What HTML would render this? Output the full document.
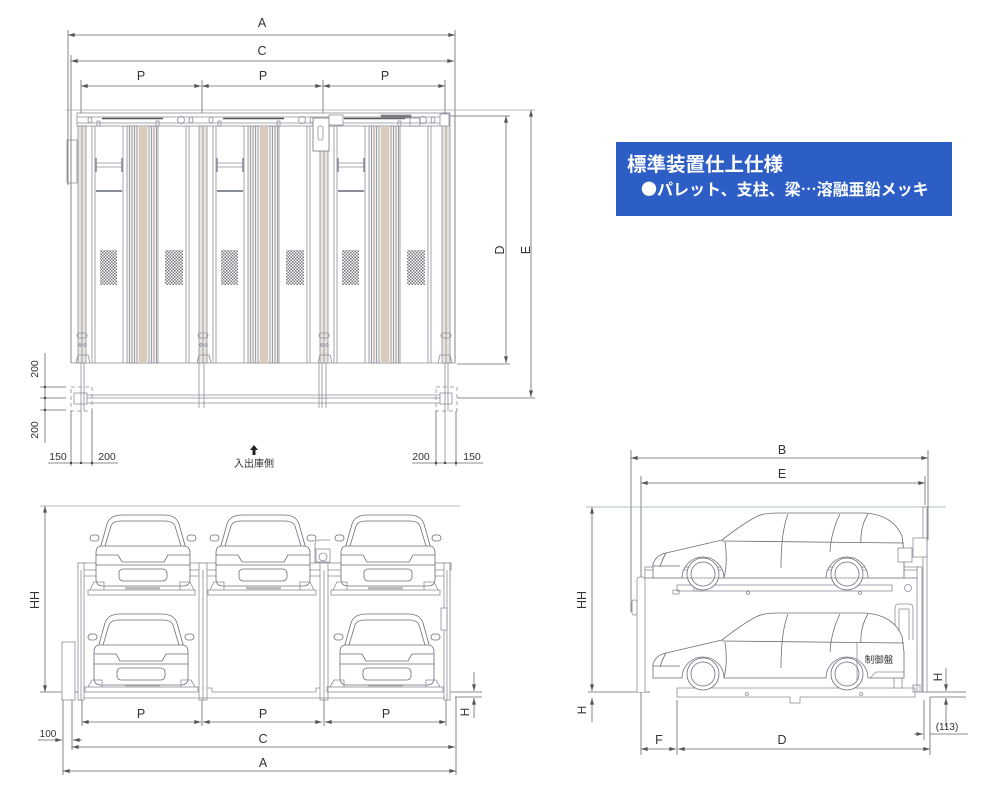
<!DOCTYPE html>
<html><head><meta charset="utf-8"><style>
html,body{margin:0;padding:0;background:#fff;}
svg{display:block;}
text{font-family:"Liberation Sans","Noto Sans CJK JP",sans-serif;fill:#333;}
</style></head><body>
<svg width="1000" height="800" viewBox="0 0 1000 800" xmlns="http://www.w3.org/2000/svg">
<defs>
<marker id="ar" viewBox="0 0 10 6" refX="10" refY="3" markerWidth="7" markerHeight="4" orient="auto-start-reverse" markerUnits="userSpaceOnUse"><path d="M0,0 L10,3 L0,6 z" fill="#555"/></marker>
<pattern id="chk" width="3" height="3" patternUnits="userSpaceOnUse"><rect width="3" height="3" fill="#fff"/><rect width="1.5" height="1.5" fill="#7a7a80"/><rect x="1.5" y="1.5" width="1.5" height="1.5" fill="#7a7a80"/></pattern>

<g id="bay" stroke="#8a8e99" stroke-width="0.8" fill="none">
 <rect x="78" y="126" width="8" height="237" fill="#ebe4dc"/>
 <line x1="82" y1="126" x2="82" y2="363"/>
 <line x1="92" y1="126" x2="92" y2="363"/>
 <line x1="95" y1="126" x2="95" y2="363"/>
 <line x1="123" y1="126" x2="123" y2="363"/>
 <rect x="127" y="126" width="31" height="237" fill="#f3efea"/>
 <rect x="139" y="126" width="8" height="237" fill="#d8cbbd" stroke="none"/>
 <path d="M129.5,126V363M132,126V363M134.5,126V363M137,126V363M149,126V363M151.5,126V363M154,126V363M156.5,126V363"/>
 <line x1="186" y1="126" x2="186" y2="363"/>
 <line x1="189" y1="126" x2="189" y2="363"/>
 <rect x="100" y="250" width="17" height="35" fill="url(#chk)" stroke="none"/>
 <rect x="165" y="250" width="18" height="35" fill="url(#chk)" stroke="none"/>
 <path d="M96,163H122M96,167H122"/>
 <path d="M96,158V172M122,158V172" stroke-width="1.6"/>
 <line x1="96" y1="191" x2="122" y2="191" stroke-width="2"/>
 <rect x="77" y="333" width="10" height="5" rx="2.5"/>
 <path d="M76,363 L78,355 L88,355 L90,363"/>
 <circle cx="80" cy="345" r="1.3"/><circle cx="85" cy="345" r="1.3"/>
 <line x1="102" y1="118.5" x2="163" y2="118.5" stroke="#555" stroke-width="1.5"/>
 <circle cx="181" cy="120" r="3.5"/>
 <ellipse cx="191" cy="120" rx="2" ry="3"/>
 <ellipse cx="90" cy="120" rx="2" ry="3"/>
 <rect x="97" y="121" width="3" height="5"/><rect x="156" y="121" width="3" height="5"/>
</g>

<g id="fcar" fill="#fff" stroke="#6a6e78" stroke-width="0.8">
 <rect x="-6" y="20" width="9" height="6" rx="3"/>
 <rect x="91" y="20" width="9" height="6" rx="3"/>
 <path d="M4,34 L11,9 Q14,0 26,0 L68,0 Q80,0 83,9 L90,34 Z"/>
 <path d="M9,31 L15,11 Q17,6 25,6 L69,6 Q77,6 79,11 L85,31 Q85,33 83,33 L11,33 Q9,33 9,31 Z"/>
 <path d="M0,38 Q0,31 6,31 L88,31 Q94,31 94,38 L94,64 Q94,71 87,71 L7,71 Q0,71 0,64 Z"/>
 <path d="M0,40 L22,40 L26,47 L68,47 L72,40 L94,40" fill="none"/>
 <path d="M0,50 L94,50" fill="none"/>
 <rect x="23" y="54" width="48" height="12" rx="4"/>
</g>

<g id="scar" fill="#fff" stroke="#6a6e78" stroke-width="0.8">
 <path d="M3,64 L3,52 Q6,43 16,41 L72,28 Q95,10 108,4 Q114,1 128,1 L215,1 Q243,3 252,24 L254,40 L254,66 L218,66 A21,21 0 0 0 176,66 L74,66 A21,21 0 0 0 32,66 L3,66 Z"/>
 <circle cx="53" cy="62" r="16"/>
 <circle cx="197" cy="62" r="16"/>
 <circle cx="53" cy="62" r="12" fill="none"/>
 <circle cx="197" cy="62" r="12" fill="none"/>
 <path d="M72,29 L254,31 M75,30 Q78,50 74,66 M138,2 Q131,20 131,56 M190,2 Q181,20 180,40 M218,2 Q210,15 211,31 M16,41 Q12,48 10,55 M3,54 L30,54" fill="none"/>
</g>
</defs>

<!-- ================= TOP PLAN VIEW ================= -->
<g stroke="#666" stroke-width="0.8" fill="none">
 <line x1="68" y1="30" x2="68" y2="185"/>
 <line x1="455" y1="30" x2="455" y2="363"/>
 <line x1="71" y1="55" x2="71" y2="363"/>
 <line x1="81" y1="80" x2="81" y2="113"/>
 <line x1="202" y1="80" x2="202" y2="113"/>
 <line x1="323" y1="80" x2="323" y2="113"/>
 <line x1="445" y1="80" x2="445" y2="113"/>
 <line x1="68" y1="35" x2="455" y2="35" marker-start="url(#ar)" marker-end="url(#ar)"/>
 <line x1="71" y1="61" x2="454" y2="61" marker-start="url(#ar)" marker-end="url(#ar)"/>
 <line x1="81" y1="86" x2="201" y2="86" marker-start="url(#ar)" marker-end="url(#ar)"/>
 <line x1="202" y1="86" x2="322" y2="86" marker-start="url(#ar)" marker-end="url(#ar)"/>
 <line x1="323" y1="86" x2="445" y2="86" marker-start="url(#ar)" marker-end="url(#ar)"/>
 <line x1="66" y1="110" x2="535" y2="110" stroke="#9aa"/>
 <line x1="449" y1="116" x2="510" y2="116"/>
 <line x1="506" y1="116" x2="506" y2="363" marker-start="url(#ar)" marker-end="url(#ar)"/>
 <line x1="531" y1="110" x2="531" y2="397" marker-start="url(#ar)" marker-end="url(#ar)"/>
 <line x1="457" y1="364" x2="510" y2="364"/>
 <line x1="457" y1="398" x2="535" y2="398"/>
</g>
<text x="262" y="27" font-size="12.5" text-anchor="middle">A</text>
<text x="262" y="55" font-size="12.5" text-anchor="middle">C</text>
<text x="141" y="80" font-size="12.5" text-anchor="middle">P</text>
<text x="263" y="80" font-size="12.5" text-anchor="middle">P</text>
<text x="385" y="80" font-size="12.5" text-anchor="middle">P</text>
<text transform="translate(504,250) rotate(-90)" font-size="12.5" text-anchor="middle">D</text>
<text transform="translate(530,250) rotate(-90)" font-size="12.5" text-anchor="middle">E</text>

<!-- frame -->
<g stroke="#8a8e99" stroke-width="0.8" fill="none">
 <rect x="77" y="113" width="372" height="13" fill="#fff"/>
 <line x1="77" y1="117" x2="449" y2="117"/>
 <line x1="77" y1="123" x2="449" y2="123"/>
 <rect x="67" y="140" width="10" height="43"/>
 <line x1="71" y1="363" x2="455" y2="363"/>
</g>
<use href="#bay"/>
<use href="#bay" x="121"/>
<use href="#bay" x="242"/>
<g stroke="#8a8e99" stroke-width="0.8" fill="none">
 <rect x="442" y="113" width="8" height="250" fill="#ebe4dc"/>
 <line x1="446" y1="113" x2="446" y2="363"/>
 <rect x="441" y="333" width="10" height="5" rx="2.5"/>
 <path d="M438,363 L440,355 L450,355 L452,363"/>
 <rect x="313" y="118" width="16" height="33" fill="#fff" stroke="#777"/>
 <rect x="318" y="126" width="5" height="14" rx="2"/>
 <rect x="329" y="115" width="14" height="10" fill="#fff"/>
 <rect x="381" y="115" width="30" height="3" fill="#777"/>
 <rect x="410" y="118" width="10" height="8"/>
 <rect x="440" y="114" width="9" height="12" fill="#fff"/>
 <!-- below pallets -->
 <line x1="81" y1="363" x2="81" y2="463"/>
 <line x1="84" y1="363" x2="84" y2="411"/>
 <line x1="445" y1="363" x2="445" y2="463"/>
 <line x1="448" y1="363" x2="448" y2="411"/>
 <line x1="199" y1="363" x2="199" y2="408"/>
 <line x1="204" y1="363" x2="204" y2="408"/>
 <line x1="319" y1="363" x2="319" y2="408"/>
 <line x1="322" y1="363" x2="322" y2="408"/>
 <line x1="326" y1="363" x2="326" y2="408"/>
 <line x1="87" y1="395" x2="440" y2="395"/>
 <line x1="87" y1="398" x2="440" y2="398"/>
 <line x1="87" y1="403" x2="440" y2="403"/>
 <rect x="71" y="387" width="21" height="24" stroke-dasharray="4,3"/>
 <rect x="74" y="393" width="13" height="11"/>
 <rect x="436" y="387" width="21" height="24" stroke-dasharray="4,3"/>
 <rect x="440" y="393" width="12" height="11"/>
</g>
<g stroke="#666" stroke-width="0.8" fill="none">
 <line x1="45" y1="353" x2="45" y2="443"/>
 <line x1="40" y1="387" x2="66" y2="387"/>
 <line x1="40" y1="398" x2="66" y2="398"/>
 <line x1="40" y1="410" x2="66" y2="410"/>
 <line x1="71" y1="411" x2="71" y2="466"/>
 <line x1="92" y1="411" x2="92" y2="466"/>
 <line x1="436" y1="411" x2="436" y2="466"/>
 <line x1="456" y1="411" x2="456" y2="466"/>
 <line x1="48" y1="463" x2="118" y2="463"/>
 <line x1="412" y1="463" x2="483" y2="463"/>
</g>
<g fill="#444">
 <circle cx="45" cy="387" r="1.2"/><circle cx="45" cy="398" r="1.2"/><circle cx="45" cy="410" r="1.2"/>
 <circle cx="71" cy="463" r="1.2"/><circle cx="81" cy="463" r="1.2"/><circle cx="92" cy="463" r="1.2"/>
 <circle cx="436" cy="463" r="1.2"/><circle cx="445" cy="463" r="1.2"/><circle cx="456" cy="463" r="1.2"/>
</g>
<text transform="translate(38,369) rotate(-90)" font-size="10.5" text-anchor="middle">200</text>
<text transform="translate(38,430) rotate(-90)" font-size="10.5" text-anchor="middle">200</text>
<text x="58" y="460" font-size="10.5" text-anchor="middle">150</text>
<text x="107" y="460" font-size="10.5" text-anchor="middle">200</text>
<text x="421" y="460" font-size="10.5" text-anchor="middle">200</text>
<text x="472" y="460" font-size="10.5" text-anchor="middle">150</text>
<path d="M254,445 L258,450 L255.5,450 L255.5,455 L252.5,455 L252.5,450 L250,450 Z" fill="#222"/>
<text x="254" y="467" font-size="10" text-anchor="middle">入出庫側</text>

<!-- ================= BLUE BOX ================= -->
<rect x="616" y="142" width="336" height="74" fill="#2d5ec6"/>
<text x="627" y="171" font-size="19.5" font-weight="bold" style="fill:#fff;font-family:'Noto Sans CJK JP',sans-serif">標準装置仕上仕様</text>
<text x="641" y="195" font-size="16" font-weight="bold" style="fill:#fff;font-family:'Noto Sans CJK JP',sans-serif">●パレット、支柱、梁…溶融亜鉛メッキ</text>

<!-- ================= FRONT VIEW ================= -->
<g stroke="#666" stroke-width="0.8" fill="none">
 <line x1="40" y1="506" x2="460" y2="506" stroke="#9aa"/>
 <line x1="45" y1="506" x2="45" y2="692" marker-start="url(#ar)" marker-end="url(#ar)"/>
 <line x1="40" y1="692" x2="78" y2="692"/>
 <line x1="450" y1="692" x2="482" y2="692"/>
 <line x1="455" y1="697" x2="482" y2="697"/>
 <line x1="474" y1="672" x2="474" y2="691" marker-end="url(#ar)"/>
 <line x1="474" y1="718" x2="474" y2="698" marker-end="url(#ar)"/>
 <line x1="63" y1="700" x2="63" y2="775"/>
 <line x1="72" y1="693" x2="72" y2="750"/>
 <line x1="456" y1="697" x2="456" y2="775"/>
 <line x1="82" y1="700" x2="82" y2="726"/>
 <line x1="202" y1="700" x2="202" y2="726"/>
 <line x1="324" y1="700" x2="324" y2="726"/>
 <line x1="446" y1="700" x2="446" y2="726"/>
 <line x1="82" y1="722" x2="201" y2="722" marker-start="url(#ar)" marker-end="url(#ar)"/>
 <line x1="203" y1="722" x2="322" y2="722" marker-start="url(#ar)" marker-end="url(#ar)"/>
 <line x1="325" y1="722" x2="446" y2="722" marker-start="url(#ar)" marker-end="url(#ar)"/>
 <line x1="72" y1="747" x2="455" y2="747" marker-start="url(#ar)" marker-end="url(#ar)"/>
 <line x1="63" y1="771" x2="456" y2="771" marker-start="url(#ar)" marker-end="url(#ar)"/>
 <line x1="38" y1="740" x2="62" y2="740" marker-end="url(#ar)"/>
 <line x1="82" y1="740" x2="73" y2="740" marker-end="url(#ar)"/>
</g>
<text transform="translate(39,600) rotate(-90)" font-size="12.5" text-anchor="middle">HH</text>
<text transform="translate(469,712) rotate(-90)" font-size="12" text-anchor="middle">H</text>
<text x="48" y="737" font-size="10" text-anchor="middle">100</text>
<text x="141" y="718" font-size="12.5" text-anchor="middle">P</text>
<text x="263" y="718" font-size="12.5" text-anchor="middle">P</text>
<text x="386" y="718" font-size="12.5" text-anchor="middle">P</text>
<text x="263" y="743" font-size="12.5" text-anchor="middle">C</text>
<text x="263" y="767" font-size="12.5" text-anchor="middle">A</text>

<g stroke="#8a8e99" stroke-width="0.8" fill="none">
 <rect x="62" y="642" width="13" height="58" fill="#fff"/>
 <rect x="78" y="563" width="373" height="7" fill="#fff"/>
 <line x1="78" y1="576" x2="451" y2="576"/>
 <rect x="78" y="563" width="6" height="137" fill="#fff"/>
 <line x1="81" y1="570" x2="81" y2="700"/>
 <rect x="199" y="563" width="8" height="137" fill="#fff"/>
 <line x1="203" y1="570" x2="203" y2="700"/>
 <rect x="320" y="563" width="8" height="137" fill="#fff"/>
 <line x1="324" y1="570" x2="324" y2="700"/>
 <rect x="444" y="563" width="6" height="137" fill="#fff"/>
 <line x1="447" y1="570" x2="447" y2="700"/>
 <rect x="441" y="608" width="6" height="22" fill="#fff"/>
 <rect x="88" y="590" width="107" height="5"/>
 <rect x="208" y="590" width="108" height="5"/>
 <rect x="331" y="590" width="109" height="5"/>
 <rect x="125" y="587" width="35" height="3" fill="#bbb" stroke="none"/>
 <rect x="246" y="587" width="35" height="3" fill="#bbb" stroke="none"/>
 <rect x="368" y="587" width="35" height="3" fill="#bbb" stroke="none"/>
 <rect x="85" y="687" width="113" height="5"/>
 <rect x="327" y="687" width="116" height="5"/>
 <path d="M207,688 L212,688 L212,692 L316,692 L316,688 L320,688"/>
 <rect x="125" y="684" width="35" height="3" fill="#bbb" stroke="none"/>
 <rect x="368" y="684" width="35" height="3" fill="#bbb" stroke="none"/>
 <line x1="84" y1="698" x2="445" y2="698"/>
 <path d="M315,563 L315,545 Q315,540 320,540 L330,540" />
 <rect x="316" y="549" width="14" height="13" fill="#fff"/>
 <circle cx="323" cy="557" r="4"/>
</g>
<use href="#fcar" x="96" y="515"/>
<use href="#fcar" x="216" y="515"/>
<use href="#fcar" x="341" y="515"/>
<use href="#fcar" x="94" y="614"/>
<use href="#fcar" x="340" y="614"/>
<g stroke="#8a8e99" stroke-width="0.8" fill="none">
 <path d="M90,590 L94,582 L104,582 L104,590 M194,590 L190,582 L180,582 L180,590"/>
 <path d="M210,590 L214,582 L224,582 L224,590 M314,590 L310,582 L300,582 L300,590"/>
 <path d="M333,590 L337,582 L347,582 L347,590 M438,590 L434,582 L424,582 L424,590"/>
 <path d="M88,687 L92,680 L102,680 L102,687 M195,687 L191,680 L181,680 L181,687"/>
 <path d="M330,687 L334,680 L344,680 L344,687 M440,687 L436,680 L426,680 L426,687"/>
</g>

<!-- ================= SIDE VIEW ================= -->
<g stroke="#666" stroke-width="0.8" fill="none">
 <line x1="631" y1="450" x2="631" y2="612"/>
 <line x1="641" y1="476" x2="641" y2="755"/>
 <line x1="928" y1="450" x2="928" y2="540"/>
 <line x1="925" y1="476" x2="925" y2="505"/>
 <line x1="631" y1="458" x2="928" y2="458" marker-start="url(#ar)" marker-end="url(#ar)"/>
 <line x1="641" y1="483" x2="925" y2="483" marker-start="url(#ar)" marker-end="url(#ar)"/>
 <line x1="586" y1="507" x2="946" y2="507" stroke="#9aa"/>
 <line x1="592" y1="507" x2="592" y2="691" marker-start="url(#ar)" marker-end="url(#ar)"/>
 <line x1="588" y1="692" x2="650" y2="692"/>
 <line x1="922" y1="692" x2="966" y2="692"/>
 <line x1="930" y1="697" x2="966" y2="697"/>
 <line x1="592" y1="722" x2="592" y2="698" marker-end="url(#ar)"/>
 <line x1="946" y1="668" x2="946" y2="691" marker-end="url(#ar)"/>
 <line x1="946" y1="727" x2="946" y2="698" marker-end="url(#ar)"/>
 <line x1="677" y1="700" x2="677" y2="755"/>
 <line x1="930" y1="697" x2="930" y2="755"/>
 <line x1="924" y1="700" x2="924" y2="740"/>
 <line x1="641" y1="749" x2="676" y2="749" marker-start="url(#ar)" marker-end="url(#ar)"/>
 <line x1="678" y1="749" x2="930" y2="749" marker-start="url(#ar)" marker-end="url(#ar)"/>
 <line x1="930" y1="734" x2="968" y2="734"/>
 <line x1="914" y1="734" x2="923" y2="734" marker-end="url(#ar)"/>
</g>
<text x="782" y="454" font-size="12.5" text-anchor="middle">B</text>
<text x="782" y="478" font-size="12.5" text-anchor="middle">E</text>
<text transform="translate(586,600) rotate(-90)" font-size="12.5" text-anchor="middle">HH</text>
<text transform="translate(586,710) rotate(-90)" font-size="12" text-anchor="middle">H</text>
<text transform="translate(942,677) rotate(-90)" font-size="12" text-anchor="middle">H</text>
<text x="659" y="744" font-size="12.5" text-anchor="middle">F</text>
<text x="782" y="744" font-size="12.5" text-anchor="middle">D</text>
<text x="947" y="730" font-size="10" text-anchor="middle">(113)</text>

<g stroke="#8a8e99" stroke-width="0.8" fill="none">
 <path d="M637,692 L637,580 Q637,577 640,577 L642,577 Q645,577 645,580 L645,692" fill="#fff"/>
 <rect x="632" y="600" width="5" height="15" rx="2" fill="#fff"/>
 <rect x="917" y="567" width="5" height="125" fill="#fff"/>
 <rect x="923" y="507" width="4" height="185" fill="#fff"/>
 <path d="M895,640 L895,608 Q895,604 899,604 L909,604 Q913,604 913,608 L913,640"/>
 <path d="M899,640 L899,609 L909,609 L909,640"/>
 <rect x="645" y="567" width="272" height="11" fill="#fff"/>
 <line x1="645" y1="570" x2="917" y2="570"/>
 <rect x="677" y="585" width="215" height="6" fill="#fff"/>
 <rect x="673" y="590" width="6" height="4"/>
 <circle cx="748" cy="593" r="1.5"/><circle cx="860" cy="593" r="1.5"/>
 <path d="M697,590 L697,568 M700,590 L700,568" stroke="#777"/>
 <rect x="694" y="586" width="8" height="5"/>
 <circle cx="908" cy="588" r="3.5"/>
 <path d="M677,688 L915,688 L915,697 L800,697 L800,703 L790,703 L790,697 L677,697 Z" fill="#fff"/>
 <circle cx="747" cy="694" r="1.5"/><circle cx="861" cy="694" r="1.5"/>
 <rect x="894" y="673" width="8" height="15" fill="#fff"/>
</g>
<use href="#scar" x="650" y="512"/>
<use href="#scar" x="650" y="612"/>
<g stroke="#8a8e99" stroke-width="0.8" fill="none">
 <rect x="898" y="548" width="14" height="14" fill="#fff"/>
 <rect x="913" y="538" width="14" height="19" fill="#fff"/>
 <line x1="645" y1="578" x2="917" y2="578"/>
 <line x1="857" y1="643" x2="857" y2="680"/>
 <path d="M870,678 L876,672 L904,672"/>
 <rect x="913" y="685" width="7" height="7"/>
</g>
<text x="879" y="663" font-size="9.5" text-anchor="middle">制御盤</text>
</svg>
</body></html>
